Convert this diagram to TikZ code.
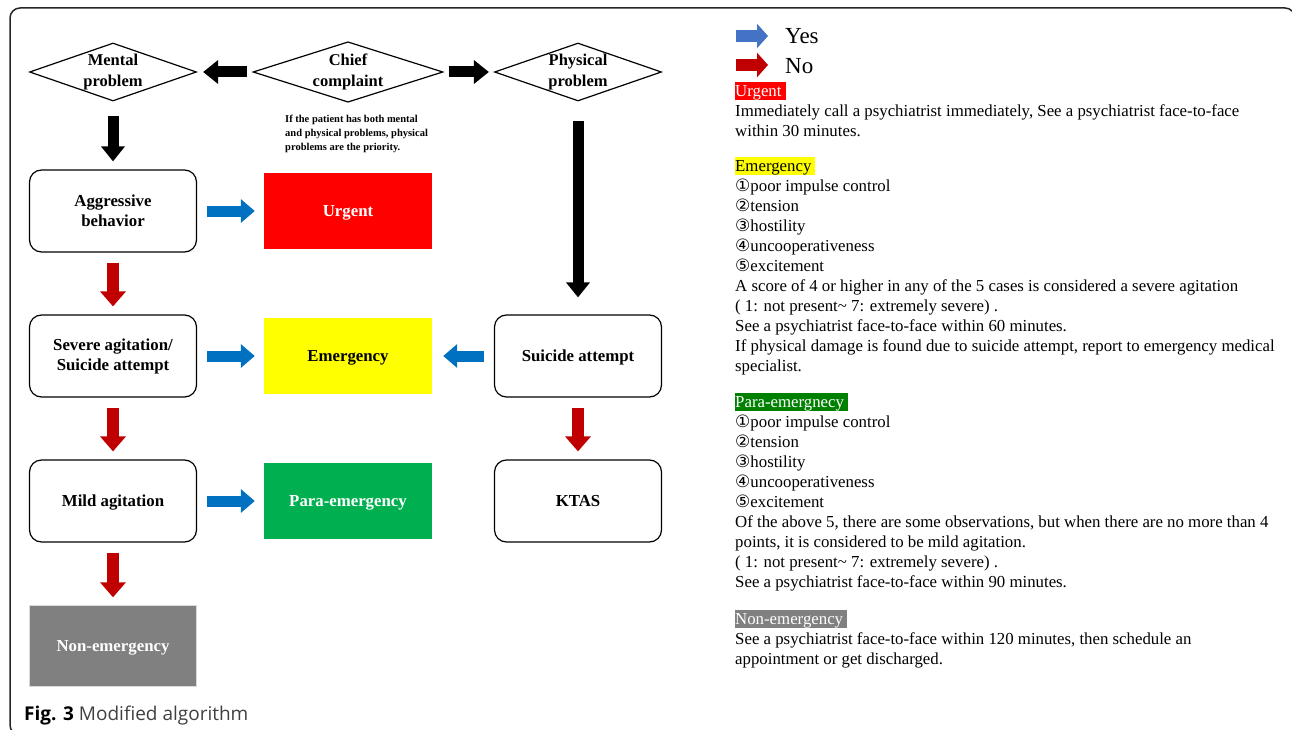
\documentclass[tikz,border=0pt]{standalone}
\usepackage{fontspec}
\setmainfont{Liberation Serif}
\newfontfamily\capfont{Open Sans}
\newfontfamily\circfont{DejaVu Sans}
\usetikzlibrary{shapes.geometric,arrows.meta,positioning}

\definecolor{yesblue}{RGB}{0,112,192}
\definecolor{legblue}{RGB}{68,114,196}
\definecolor{nored}{RGB}{192,0,0}
\definecolor{urgred}{RGB}{255,0,0}
\definecolor{emyellow}{RGB}{255,255,0}
\definecolor{paragreen}{RGB}{0,176,80}
\definecolor{paradark}{RGB}{0,128,0}
\definecolor{nongray}{RGB}{128,128,128}

% circled numbers and coloured headers of the legend text
\newcommand{\cnum}[1]{{\circfont\fontsize{17}{20}\selectfont #1}}
\newcommand{\hdr}[3]{\setlength{\fboxsep}{0pt}\colorbox{#1}{\rule[-4pt]{0pt}{18pt}\textcolor{#2}{#3}\hspace{4pt}}}

\tikzset{
  decision/.style={draw, shape=diamond, line width=1.2pt, shape aspect=2.9, inner sep=0pt,
    minimum width=167pt, minimum height=58pt, align=center,
    font=\bfseries\fontsize{16.5}{21}\selectfont},
  stepbox/.style={draw, rounded corners=12pt, line width=1.2pt, minimum width=167pt,
    minimum height=82pt, align=center, font=\bfseries\fontsize{16.8}{20}\selectfont},
  levelbox/.style={minimum width=168pt, minimum height=76pt, align=center,
    font=\bfseries\fontsize{16.8}{20}\selectfont},
  oneline/.style={text depth=0pt},
  mainarrow/.style={line width=11pt, -{Triangle[length=15pt,width=23pt]}},
  yesarrow/.style={yesblue, line width=11pt, -{Triangle[length=14pt,width=23pt]},
    shorten <=10pt, shorten >=9pt},
  noarrow/.style={nored, line width=12pt, -{Triangle[length=15pt,width=25pt]},
    shorten <=10pt, shorten >=8pt},
  legyes/.style={legblue, line width=12pt, -{Triangle[length=11pt,width=24pt]}},
  legno/.style={nored, line width=12pt, -{Triangle[length=11pt,width=24pt]}},
  sectext/.style={anchor=north west, inner sep=0pt, align=left,
    font=\fontsize{16.8}{20}\selectfont},
}

\begin{document}
\begin{tikzpicture}[x=1pt, y=-1pt]
	\useasboundingbox (0,0) rectangle (1292,730);
	\draw[line width=1.5pt, black!85, rounded corners=10pt] (10,8) rectangle (1295,735);
	
	% decisions
	\node[decision] (mental) at (113,72) {Mental\\problem};
	\node[decision, minimum width=190pt] (chief) at (348,72) {Chief\\complaint};
	\node[decision] (physical) at (578,72) {Physical\\problem};
	\node[anchor=north west, inner sep=0pt, align=left, font=\bfseries\fontsize{10.5}{14}\selectfont] (prio) at (285,115)
		{If the patient has both mental\\and physical problems, physical\\problems are the priority.};
	
	% left column
	\node[stepbox] (aggr) at (113,211) {Aggressive\\behavior};
	\node[stepbox] (severe) at (113,356) {Severe agitation/\\Suicide attempt};
	\node[stepbox, oneline] (mild) at (113,501) {Mild agitation};
	\node[levelbox, oneline, minimum width=167pt, minimum height=81pt, fill=nongray, draw=black!15, text=white] (nonem) at (113,646) {Non-emergency};
	
	% levels
	\node[levelbox, oneline, fill=urgred, text=white] (urgent) at (348,211) {Urgent};
	\node[levelbox, oneline, fill=emyellow] (emerg) at (348,356) {Emergency};
	\node[levelbox, oneline, fill=paragreen, text=white] (para) at (348,501) {Para-emergency};
	
	% right column
	\node[stepbox, oneline] (suicide) at (578,356) {Suicide attempt};
	\node[stepbox, oneline] (ktas) at (578,501) {KTAS};
	
	\draw[mainarrow, shorten <=5pt, shorten >=6pt] (chief) -- (mental);
	\draw[mainarrow, shorten <=5pt, shorten >=5pt] (chief) -- (physical);
	\draw[mainarrow, shorten <=14pt, shorten >=8pt] (mental) -- (aggr);
	\draw[mainarrow, shorten <=19pt, shorten >=17pt] (physical) -- (suicide);
	
	\draw[yesarrow] (aggr) -- (urgent);
	\draw[yesarrow] (severe) -- (emerg);
	\draw[yesarrow] (mild) -- (para);
	\draw[yesarrow, shorten >=11pt] (suicide) -- (emerg);
	
	\draw[noarrow] (aggr) -- (severe);
	\draw[noarrow] (severe) -- (mild);
	\draw[noarrow] (mild) -- (nonem);
	\draw[noarrow] (suicide) -- (ktas);
	
	% legend
	\coordinate (yesA) at (736,36);
	\coordinate (yesB) at (768,36);
	\coordinate (noA) at (736,65);
	\coordinate (noB) at (768,65);
	\draw[legyes] (yesA) -- (yesB);
	\draw[legno] (noA) -- (noB);
	\node[anchor=west, inner sep=0pt, font=\fontsize{23}{23}\selectfont] (yestxt) at (785,36) {Yes};
	\node[anchor=west, inner sep=0pt, font=\fontsize{23}{23}\selectfont] (notxt) at (785,66) {No};
	
	\node[sectext] (urgtxt) at (735,82) {\hdr{urgred}{white}{Urgent}\\
		Immediately call a psychiatrist immediately, See a psychiatrist face-to-face\\
		within 30 minutes.};
	\node[sectext] (emtxt) at (735,157) {\hdr{emyellow}{black}{Emergency}\\
		\cnum{①}poor impulse control\\
		\cnum{②}tension\\
		\cnum{③}hostility\\
		\cnum{④}uncooperativeness\\
		\cnum{⑤}excitement\\
		A score of 4 or higher in any of the 5 cases is considered a severe agitation\\
		( 1: not present\textasciitilde{} 7: extremely severe) .\\
		See a psychiatrist face-to-face within 60 minutes.\\
		If physical damage is found due to suicide attempt, report to emergency medical\\
		specialist.};
	\node[sectext] (paratxt) at (735,393) {\hdr{paradark}{white}{Para-emergnecy}\\
		\cnum{①}poor impulse control\\
		\cnum{②}tension\\
		\cnum{③}hostility\\
		\cnum{④}uncooperativeness\\
		\cnum{⑤}excitement\\
		Of the above 5, there are some observations, but when there are no more than 4\\
		points, it is considered to be mild agitation.\\
		( 1: not present\textasciitilde{} 7: extremely severe) .\\
		See a psychiatrist face-to-face within 90 minutes.};
	\node[sectext] (nontxt) at (735,610) {\hdr{nongray}{white}{Non-emergency}\\
		See a psychiatrist face-to-face within 120 minutes, then schedule an\\
		appointment or get discharged.};
	
	\node[anchor=base west, inner sep=0pt, font=\capfont\fontsize{19}{22}\selectfont] (caption) at (24,720)
		{\textbf{Fig. 3} \textcolor{black!75}{Modified algorithm}};
	
\end{tikzpicture}
\end{document}
